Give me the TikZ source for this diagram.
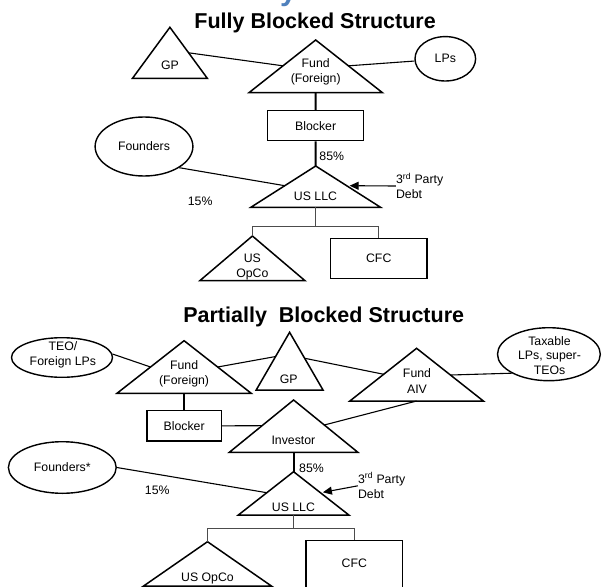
\documentclass[tikz,border=0pt]{standalone}
\usepackage{fontspec}
\setmainfont{Liberation Sans}
\usetikzlibrary{shapes.geometric,arrows.meta,calc}

\definecolor{accentblue}{RGB}{79,129,189}

\tikzset{
  shapeline/.style={draw=black, line width=1.5pt, line join=miter},
  link/.style={draw=black, line width=1.1pt},
  stem/.style={draw=black, line width=2pt},
  branch/.style={draw=black!70, line width=0.8pt},
  txt/.style={inner sep=0pt, align=center, font=\fontsize{12.3}{15.5}\selectfont},
  heading/.style={inner sep=0pt, font=\fontsize{21.5}{24}\selectfont\bfseries},
  oval/.style={ellipse, draw, line width=1.4pt, inner sep=0pt, font=\fontsize{12.3}{15.5}\selectfont},
  box/.style={rectangle, draw, line width=1.5pt, inner sep=0pt, font=\fontsize{12.3}{15.5}\selectfont},
  debtarrow/.style={draw, line width=1.1pt, -{Triangle[length=9pt,width=8pt]}},
}

% triangle: name, apex x, apex y, half base width, height (y grows downwards)
\newcommand\tridraw[5]{%
  \draw[shapeline] (#2,#3) coordinate (#1-apex)
    -- ({#2+#4},{#3+#5}) coordinate (#1-br)
    -- ({#2-#4},{#3+#5}) coordinate (#1-bl) -- cycle;
  \coordinate (#1-base) at (#2,{#3+#5});}

\begin{document}
\begin{tikzpicture}[x=1pt,y=-1pt]
\useasboundingbox (0,0) rectangle (602,586);
\clip (0,0) rectangle (602,586);

% tail of the heading above
\node[anchor=base west, inner sep=0pt, text=accentblue,
      font=\fontsize{30}{30}\selectfont\bfseries] (toptail) at (280,0.8) {y};

% ---------------- fully blocked ----------------
\node[heading, anchor=base] (title1) at (315.1,28.3) {Fully Blocked Structure};

\tridraw{gp1}{169.9}{27.3}{37.4}{51}
\tridraw{fund1}{315.7}{40}{66.75}{52.7}
\tridraw{llc1}{315.7}{166}{64.85}{41.3}
\tridraw{opco1}{252.4}{236}{52.6}{44.7}

\node[txt] (gp1-t) at (169.9,65.7) {GP};
\node[txt] (fund1-t) at (315.7,72) {Fund\\(Foreign)};
\node[txt] (llc1-t) at (315.5,196.7) {US LLC};
\node[txt] (opco1-t) at (252.4,267.2) {US\\OpCo};

\node[oval, minimum width=60.6, minimum height=44.4] (lps1) at (445.3,58.8) {LPs};
\node[oval, minimum width=97.8, minimum height=59] (founders1) at (144,146.5) {Founders};
\node[box, minimum width=95.9, minimum height=30] (blocker1) at (315.65,125.7) {Blocker};
\node[box, minimum width=96.3, minimum height=40] (cfc1) at (378.75,258.3) {CFC};

\node[txt] (pct85a) at (331.8,156.7) {85\%};
\node[txt] (pct15a) at (200.2,201.7) {15\%};
\node[txt, anchor=west, align=left] (debt1) at (395.9,186) {3\textsuperscript{rd} Party\\Debt};

\draw[link] ($(gp1-apex)!0.5!(gp1-br)$) -- ($(fund1-apex)!0.49!(fund1-bl)$);
\draw[link] ($(fund1-apex)!0.49!(fund1-br)$) -- (lps1);
\draw[stem] (fund1-base) -- (blocker1.north);
\draw[stem] (blocker1.south) -- (llc1-apex);
\draw[link] (founders1.329) -- ($(llc1-apex)!0.477!(llc1-bl)$);
\coordinate (debt1-end) at ($(llc1-apex)!0.477!(llc1-br)+(3,0)$);
\draw[debtarrow] (debt1.west) -- (debt1-end);
\draw[branch] (llc1-base) -- ++(0,18.7) coordinate (split1);
\draw[branch] (split1) -| (opco1-apex);
\draw[branch] (split1) -| (cfc1.north);

% ---------------- partially blocked ----------------
\node[heading, anchor=base] (title2) at (323.7,322.3) {Partially\ \ Blocked Structure};

\tridraw{fund2}{184.1}{340.7}{67.1}{52.6}
\tridraw{gp2}{289.6}{332.3}{33.4}{57.7}
\tridraw{aiv}{416.6}{348.3}{66.75}{52.7}
\tridraw{inv}{293.6}{400}{64.25}{52.3}
\tridraw{llc2}{293.6}{471.7}{55.25}{43.3}
\tridraw{opco2}{207.5}{541.7}{64.2}{44.5}

\node[txt] (fund2-t) at (184.1,374) {Fund\\(Foreign)};
\node[txt] (gp2-t) at (288.8,379.3) {GP};
\node[txt] (aiv-t) at (417,380.8) {Fund\\AIV};
\node[txt] (inv-t) at (293.4,440) {Investor};
\node[txt] (llc2-t) at (293.4,507.3) {US LLC};
\node[txt] (opco2-t) at (207.5,578.3) {US OpCo};

\node[oval, minimum width=101, minimum height=39.6] (teo) at (62,357.5) {};
\node[txt] (teo-t) at (62.9,355) {TEO/\\Foreign LPs};
\node[oval, minimum width=102.8, minimum height=53] (tax) at (548.9,354.2) {};
\node[txt, font=\fontsize{12.3}{14.7}\selectfont] (tax-t) at (549.5,355.5) {Taxable\\LPs, super-\\TEOs};
\node[oval, minimum width=107.8, minimum height=51.6] (founders2) at (62.3,467.5) {Founders*};
\node[box, minimum width=74.4, minimum height=30.3] (blocker2) at (184.1,425.85) {Blocker};
\node[box, minimum width=96.7, minimum height=59.3] (cfc2) at (354.35,570.35) {};
\node[txt] (cfc2-t) at (354.3,563.3) {CFC};

\node[txt] (pct85b) at (311.5,468.3) {85\%};
\node[txt] (pct15b) at (157.3,490) {15\%};
\node[txt, anchor=west, align=left] (debt2) at (357.9,485.8) {3\textsuperscript{rd} Party\\Debt};

\draw[link] (teo.4) -- ($(fund2-apex)!0.5!(fund2-bl)$);
\draw[link] ($(fund2-apex)!0.5!(fund2-br)$) -- ($(gp2-apex)!0.42!(gp2-bl)$);
\draw[link] ($(gp2-apex)!0.45!(gp2-br)$) -- ($(aiv-apex)!0.493!(aiv-bl)$);
\draw[link] ($(aiv-apex)!0.507!(aiv-br)$) -- (tax.207);
\draw[stem] (fund2-base) -- (blocker2.north);
\draw[link] (blocker2.east) -- ($(inv-apex)!0.491!(inv-bl)$);
\draw[link] (aiv-base) -- ($(inv-apex)!0.478!(inv-br)$);
\draw[stem] (inv-base) -- (llc2-apex);
\draw[link] (founders2.east) -- ($(llc2-apex)!0.485!(llc2-bl)$);
\coordinate (debt2-end) at ($(llc2-apex)!0.476!(llc2-br)+(3,0)$);
\draw[debtarrow] (debt2.west) -- (debt2-end);
\draw[branch] (llc2-base) -- ++(0,13.7) coordinate (split2);
\draw[branch] (split2) -| (opco2-apex);
\draw[branch] (split2) -| (cfc2.north);
\end{tikzpicture}
\end{document}
